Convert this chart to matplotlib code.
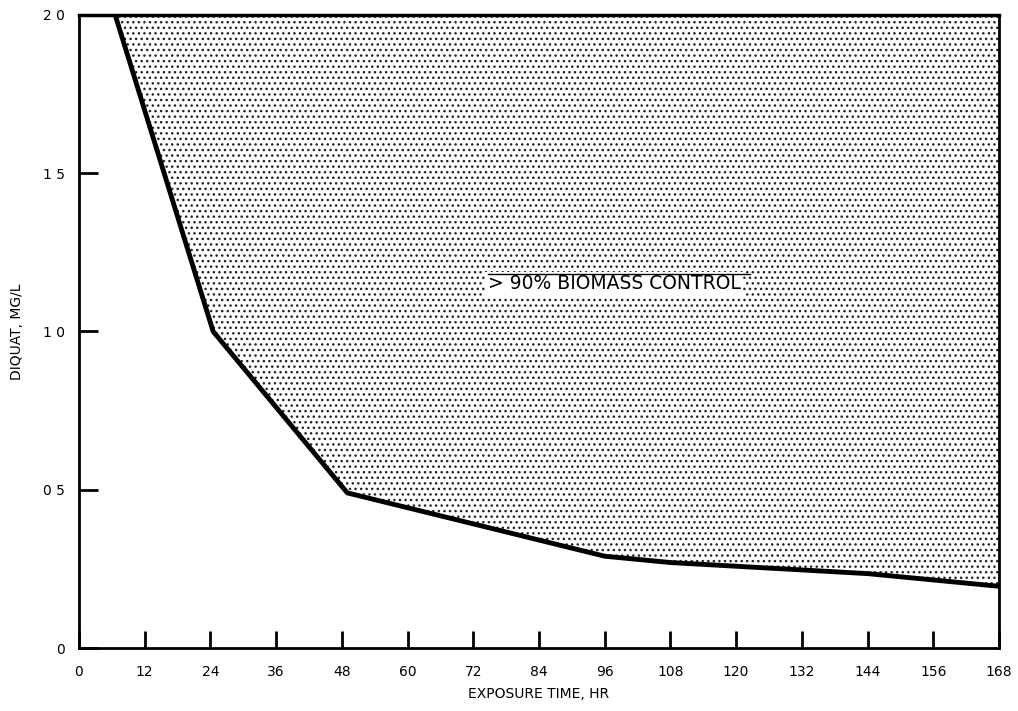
import matplotlib
matplotlib.use("Agg")
import matplotlib.pyplot as plt

# boundary of the >90% biomass control region
hours = [6.6, 24.5, 49, 96, 108, 144, 168]
diquat = [2.0, 1.0, 0.49, 0.29, 0.27, 0.235, 0.195]

x_ticks = [0, 12, 24, 36, 48, 60, 72, 84, 96, 108, 120, 132, 144, 156, 168]
y_ticks = [0, 0.5, 1.0, 1.5, 2.0]
y_tick_labels = ["0", "0 5", "1 0", "1 5", "2 0"]

plt.rcParams["hatch.linewidth"] = 1.0

fig = plt.figure(figsize=(10.18, 7.11), dpi=100)
ax = fig.add_axes([0.0776, 0.0886, 0.9037, 0.8904])

top = [2.0] * len(hours)
ax.fill_between(hours, diquat, top, facecolor="white", edgecolor="#222222",
                hatch="...", linewidth=0)
ax.plot(hours, diquat, color="black", linewidth=3.5, solid_joinstyle="round")

ax.set_xlim(0, 168)
ax.set_ylim(0, 2.0)
ax.set_xticks(x_ticks)
ax.set_yticks(y_ticks)
ax.set_yticklabels(y_tick_labels)
ax.tick_params(axis="x", direction="in", length=12, width=2, labelsize=10, pad=12)
ax.tick_params(axis="y", direction="in", length=14, width=2, labelsize=10, pad=10)

for side in ["left", "bottom"]:
    ax.spines[side].set_linewidth(2)
ax.spines["top"].set_linewidth(2.5)
ax.spines["right"].set_linewidth(2)

ax.set_xlabel("EXPOSURE TIME, HR", fontsize=10, labelpad=6)
ax.set_ylabel("DIQUAT, MG/L", fontsize=10, labelpad=14)

ax.text(74.6, 1.15, "> 90% BIOMASS CONTROL", fontsize=13.5,
        ha="left", va="center",
        bbox=dict(facecolor="white", edgecolor="none", pad=2))
ax.plot([74.6, 122.6], [1.18, 1.18], color="black", linewidth=1, zorder=5)

fig.savefig("out.png", dpi=100)
